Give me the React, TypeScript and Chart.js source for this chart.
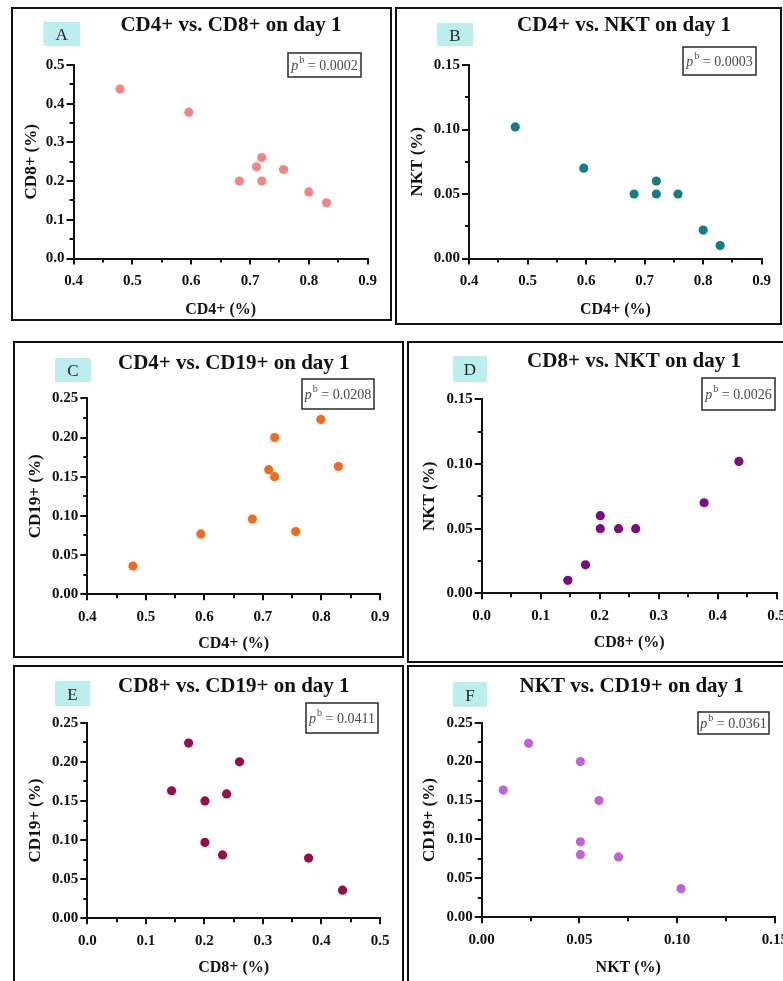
import React, { useEffect, useRef } from 'react';
import { Chart, registerables } from 'chart.js';

Chart.register(...registerables);

// ---------- DATA ----------
// A: CD4+ vs CD8+
const aCD4 = [0.479, 0.596, 0.682, 0.711, 0.72, 0.72, 0.757, 0.8, 0.83];
const aCD8 = [0.438, 0.378, 0.2, 0.237, 0.261, 0.2, 0.23, 0.172, 0.144];
// B: CD4+ vs NKT
const bCD4 = [0.479, 0.596, 0.682, 0.72, 0.72, 0.757, 0.8, 0.829];
const bNKT = [0.102, 0.07, 0.05, 0.06, 0.05, 0.05, 0.022, 0.01];
// C: CD4+ vs CD19+
const cCD4 = [0.478, 0.594, 0.682, 0.71, 0.72, 0.72, 0.756, 0.799, 0.829];
const cCD19 = [0.036, 0.077, 0.096, 0.159, 0.2, 0.15, 0.08, 0.223, 0.163];
// D: CD8+ vs NKT
const dCD8 = [0.146, 0.176, 0.201, 0.201, 0.232, 0.261, 0.377, 0.436];
const dNKT = [0.01, 0.022, 0.06, 0.05, 0.05, 0.05, 0.07, 0.102];
// E: CD8+ vs CD19+
const eCD8 = [0.144, 0.173, 0.201, 0.201, 0.231, 0.238, 0.26, 0.378, 0.436];
const eCD19 = [0.163, 0.224, 0.15, 0.097, 0.081, 0.159, 0.2, 0.077, 0.036];
// F: NKT vs CD19+
const fNKT = [0.011, 0.024, 0.0505, 0.06, 0.0505, 0.0505, 0.07, 0.102];
const fCD19 = [0.1635, 0.2235, 0.2, 0.15, 0.097, 0.0805, 0.0775, 0.0368];

const panelLetters = ['A', 'B', 'C', 'D', 'E', 'F'];
const panelTitles = [
  'CD4+ vs. CD8+ on day 1',
  'CD4+ vs. NKT on day 1',
  'CD4+ vs. CD19+ on day 1',
  'CD8+ vs. NKT on day 1',
  'CD8+ vs. CD19+ on day 1',
  'NKT vs. CD19+ on day 1',
];
const pValues = ['0.0002', '0.0003', '0.0208', '0.0026', '0.0411', '0.0361'];
const xTitles = ['CD4+ (%)', 'CD4+ (%)', 'CD4+ (%)', 'CD8+ (%)', 'CD8+ (%)', 'NKT (%)'];
const yTitles = ['CD8+ (%)', 'NKT (%)', 'CD19+ (%)', 'NKT (%)', 'CD19+ (%)', 'CD19+ (%)'];
// axis ranges: [min, max, majorStep, minorStep, decimals]
const xRanges: [number, number, number, number, number][] = [
  [0.4, 0.9, 0.1, 0.05, 1],
  [0.4, 0.9, 0.1, 0.05, 1],
  [0.4, 0.9, 0.1, 0.05, 1],
  [0, 0.5, 0.1, 0.05, 1],
  [0, 0.5, 0.1, 0.05, 1],
  [0, 0.15, 0.05, 0.025, 2],
];
const yRanges: [number, number, number, number, number][] = [
  [0, 0.5, 0.1, 0.05, 1],
  [0, 0.15, 0.05, 0.025, 2],
  [0, 0.25, 0.05, 0.025, 2],
  [0, 0.15, 0.05, 0.025, 2],
  [0, 0.25, 0.05, 0.025, 2],
  [0, 0.25, 0.05, 0.025, 2],
];
const xSeries = [aCD4, bCD4, cCD4, dCD8, eCD8, fNKT];
const ySeries = [aCD8, bNKT, cCD19, dNKT, eCD19, fCD19];
const colors = ['#f38585', '#137c8b', '#f46a1c', '#7e0a80', '#9a0c4c', '#c062d8'];

// ---------- LAYOUT (page coordinates) ----------
type Rect = { x: number; y: number; w: number; h: number };
type Layout = {
  box: Rect;
  area: { l: number; t: number; r: number; b: number };
  title: { x: number; y: number };
  letter: Rect;
  pbox: Rect;
  yTitleX: number;
  xTitleY: number;
};
const layouts: Layout[] = [
  { box: { x: 11, y: 7, w: 381, h: 314 }, area: { l: 73.5, t: 65, r: 367.7, b: 258.5 }, title: { x: 231, y: 31 }, letter: { x: 43.5, y: 22, w: 36.5, h: 24 }, pbox: { x: 288, y: 53, w: 73, h: 24 }, yTitleX: 31.7, xTitleY: 310 },
  { box: { x: 395, y: 7, w: 387, h: 318 }, area: { l: 469, t: 65, r: 761.7, b: 258.5 }, title: { x: 624, y: 31 }, letter: { x: 437, y: 23, w: 36, h: 23 }, pbox: { x: 683, y: 47, w: 73, h: 28 }, yTitleX: 418, xTitleY: 310 },
  { box: { x: 13, y: 341, w: 391, h: 317 }, area: { l: 87.3, t: 398.3, r: 380, b: 594.3 }, title: { x: 233.8, y: 369 }, letter: { x: 55, y: 358, w: 36, h: 24 }, pbox: { x: 302, y: 379, w: 72, h: 30 }, yTitleX: 35.8, xTitleY: 644 },
  { box: { x: 407, y: 341, w: 391, h: 322 }, area: { l: 481.7, t: 399.3, r: 776.7, b: 593.3 }, title: { x: 634, y: 367 }, letter: { x: 453, y: 356, w: 34, h: 26 }, pbox: { x: 702, y: 378, w: 73, h: 32 }, yTitleX: 430, xTitleY: 643 },
  { box: { x: 13, y: 665, w: 391, h: 330 }, area: { l: 87.3, t: 722.7, r: 380, b: 918.3 }, title: { x: 233.8, y: 692 }, letter: { x: 55, y: 681, w: 35, h: 25 }, pbox: { x: 306, y: 703, w: 72, h: 30 }, yTitleX: 35.8, xTitleY: 968 },
  { box: { x: 407, y: 665, w: 391, h: 330 }, area: { l: 481.7, t: 722.7, r: 776, b: 917.3 }, title: { x: 631.7, y: 692 }, letter: { x: 453, y: 682, w: 34, h: 25 }, pbox: { x: 698, y: 712, w: 71, h: 22 }, yTitleX: 430, xTitleY: 968 },
];

const FONT = '"Liberation Serif", "Times New Roman", serif';
const INK = '#111111';

function Panel({ idx }: { idx: number }) {
  const ref = useRef<HTMLCanvasElement | null>(null);
  const lay = layouts[idx];
  const BW = 2;
  const ox = lay.box.x + BW;
  const oy = lay.box.y + BW;
  const cw = lay.box.w - 2 * BW;
  const ch = lay.box.h - 2 * BW;

  useEffect(() => {
    if (!ref.current) return;
    const L = lay.area.l - ox;
    const T = lay.area.t - oy;
    const Rpad = cw - (lay.area.r - ox);
    const Bpos = lay.area.b - oy;
    const xH = ch - Bpos;
    const [xmin, xmax, xmaj, xmin2, xdec] = xRanges[idx];
    const [ymin, ymax, ymaj, ymin2, ydec] = yRanges[idx];
    const xTitleSize = 16;
    const yTitleSize = 17;

    const overlay = {
      id: 'overlay' + idx,
      afterDraw(chart: any) {
        const ctx = chart.ctx as CanvasRenderingContext2D;
        ctx.save();
        // title
        ctx.font = `bold 21px ${FONT}`;
        ctx.fillStyle = INK;
        ctx.textAlign = 'center';
        ctx.textBaseline = 'alphabetic';
        ctx.fillText(panelTitles[idx], lay.title.x - ox, lay.title.y - oy);
        // letter box
        const lt = lay.letter;
        ctx.fillStyle = '#bdeeee';
        ctx.fillRect(lt.x - ox, lt.y - oy, lt.w, lt.h);
        ctx.fillStyle = '#222222';
        ctx.font = `17px ${FONT}`;
        ctx.fillText(panelLetters[idx], lt.x - ox + lt.w / 2, lt.y - oy + lt.h / 2 + 6);
        // p box
        const pb = lay.pbox;
        ctx.strokeStyle = '#2a2a2a';
        ctx.lineWidth = 1.5;
        ctx.strokeRect(pb.x - ox, pb.y - oy, pb.w, pb.h);
        const fP = `italic 14px ${FONT}`;
        const fS = `10px ${FONT}`;
        const fN = `14px ${FONT}`;
        const rest = ' = ' + pValues[idx];
        ctx.font = fP; const wP = ctx.measureText('p').width;
        ctx.font = fS; const wS = ctx.measureText('b').width;
        ctx.font = fN; const wN = ctx.measureText(rest).width;
        const total = wP + 1 + wS + wN;
        let tx = pb.x - ox + pb.w / 2 - total / 2;
        const base = pb.y - oy + pb.h / 2 + 5;
        ctx.textAlign = 'left';
        ctx.fillStyle = '#4a4a4a';
        ctx.font = fP; ctx.fillText('p', tx, base); tx += wP + 1;
        ctx.font = fS; ctx.fillText('b', tx, base - 7); tx += wS;
        ctx.font = fN; ctx.fillText(rest, tx, base);
        ctx.restore();
      },
    };

    const tickFont = { family: FONT, size: 15, weight: 'bold' as const };
    const chart = new Chart(ref.current, {
      type: 'scatter',
      data: {
        datasets: [
          {
            data: xSeries[idx].map((v, i) => ({ x: v, y: ySeries[idx][i] })),
            backgroundColor: colors[idx],
            borderWidth: 0,
            pointRadius: 4.6,
            pointHoverRadius: 4.6,
            xAxisID: 'x',
            yAxisID: 'y',
          },
        ],
      },
      options: {
        responsive: false,
        animation: false,
        devicePixelRatio: 1,
        layout: { padding: { left: 0, top: T, right: Rpad, bottom: 0 } },
        plugins: { legend: { display: false }, tooltip: { enabled: false }, title: { display: false } },
        scales: {
          x: {
            type: 'linear', position: 'bottom', weight: 1, min: xmin, max: xmax,
            afterFit: (s: any) => { s.height = xH; },
            border: { display: true, color: INK, width: 2 },
            grid: { drawOnChartArea: false, drawTicks: true, tickLength: 6, color: INK, lineWidth: 2 },
            ticks: { stepSize: xmaj, autoSkip: false, maxRotation: 0, padding: 8, color: INK, font: tickFont,
              callback: (v: any) => Number(v).toFixed(xdec) },
            title: { display: true, text: xTitles[idx], color: INK, font: { family: FONT, size: xTitleSize, weight: 'bold' },
              padding: { top: 0, bottom: ch - (lay.xTitleY - oy) - xTitleSize * 0.6 } },
          },
          xm: {
            type: 'linear', position: 'bottom', weight: 0, min: xmin, max: xmax,
            afterFit: (s: any) => { s.height = 0; },
            border: { display: false },
            grid: { drawOnChartArea: false, drawTicks: true, tickLength: 4, color: INK, lineWidth: 2 },
            ticks: { stepSize: xmin2, display: false },
          },
          y: {
            type: 'linear', position: 'left', weight: 1, min: ymin, max: ymax,
            afterFit: (s: any) => { s.width = L; },
            border: { display: true, color: INK, width: 2 },
            grid: { drawOnChartArea: false, drawTicks: true, tickLength: 7, color: INK, lineWidth: 2 },
            ticks: { stepSize: ymaj, autoSkip: false, padding: 2, color: INK, font: tickFont,
              callback: (v: any) => Number(v).toFixed(ydec) },
            title: { display: true, text: yTitles[idx], color: INK, font: { family: FONT, size: yTitleSize, weight: 'bold' },
              padding: { top: (lay.yTitleX - ox) - yTitleSize * 0.6, bottom: 0 } },
          },
          ym: {
            type: 'linear', position: 'left', weight: 0, min: ymin, max: ymax,
            afterFit: (s: any) => { s.width = 0; },
            border: { display: false },
            grid: { drawOnChartArea: false, drawTicks: true, tickLength: 4, color: INK, lineWidth: 2 },
            ticks: { stepSize: ymin2, display: false },
          },
        },
      } as any,
      plugins: [overlay],
    });
    return () => chart.destroy();
  }, [idx]);

  return (
    <div
      style={{
        position: 'absolute', left: lay.box.x, top: lay.box.y, width: lay.box.w, height: lay.box.h,
        border: `${BW}px solid ${INK}`, boxSizing: 'border-box', background: '#fff',
      }}
    >
      <canvas ref={ref} width={cw} height={ch} style={{ display: 'block', width: cw, height: ch }} />
    </div>
  );
}

export default function App() {
  return (
    <div style={{ position: 'absolute', left: 0, top: 0, width: 783, height: 981, overflow: 'hidden', background: '#fff' }}>
      {layouts.map((_, i) => (
        <Panel key={i} idx={i} />
      ))}
    </div>
  );
}
